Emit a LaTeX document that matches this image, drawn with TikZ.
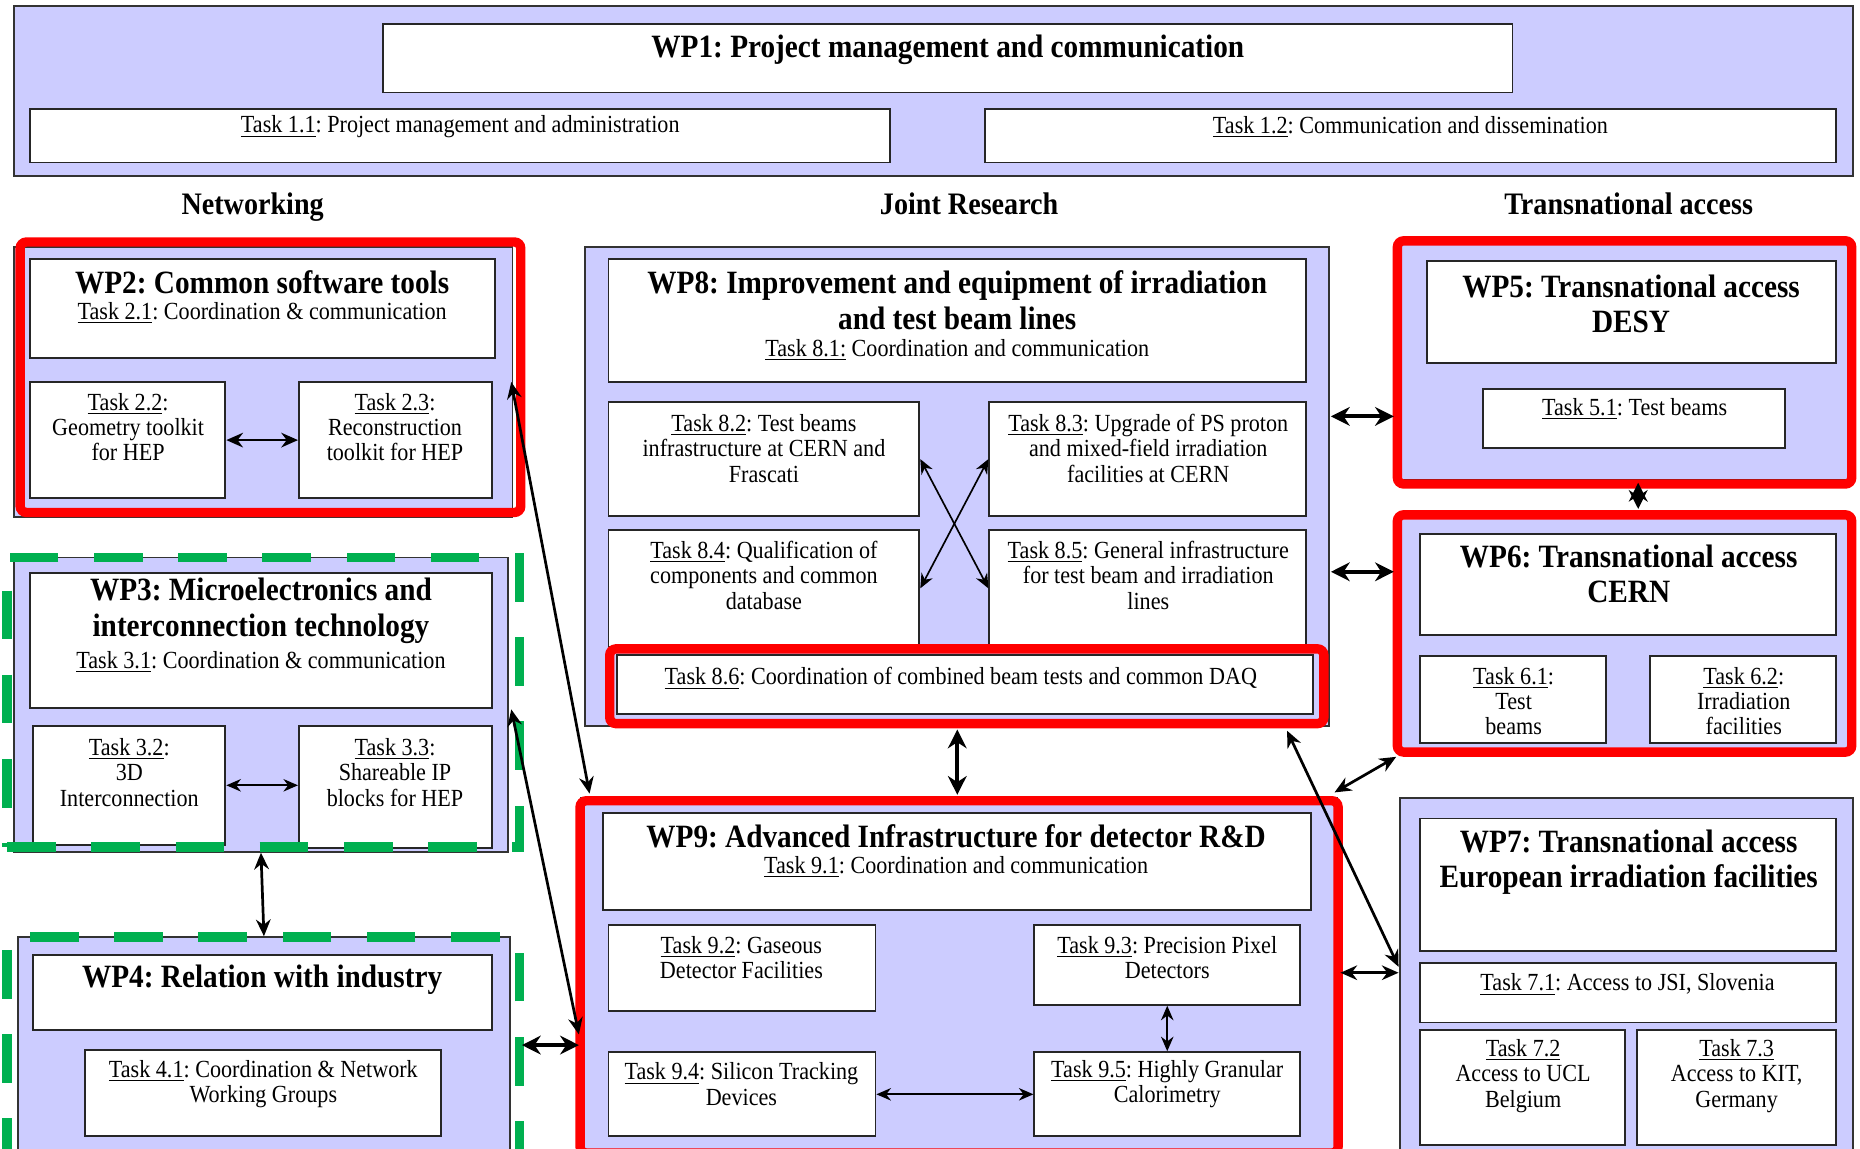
\documentclass[tikz,border=0pt]{standalone}
\usepackage{fontspec}
\setmainfont{Liberation Serif}[FakeStretch=0.9]
\usetikzlibrary{fit,arrows.meta}
\frenchspacing

\definecolor{wplav}{HTML}{CCCCFF}
\definecolor{wpred}{HTML}{FF0000}
\definecolor{wpgreen}{HTML}{00B050}

\tikzset{
  wpframe/.style={draw=black!80, fill=wplav, line width=0.9pt, inner sep=0pt},
  wpbox/.style={draw=black!85, fill=white, line width=0.9pt, inner sep=0pt},
  redframe/.style={draw=wpred, line width=4.5pt, rounded corners=3pt, inner sep=0pt},
  greenframe/.style={draw=wpgreen, line width=4.5pt, dash pattern=on 0.82cm off 0.6cm, inner sep=0pt},
  wptitle/.style={font=\fontsize{15.6}{17}\selectfont\bfseries, align=center, inner sep=0pt},
  wptext/.style={font=\fontsize{11.8}{12.2}\selectfont, align=center, inner sep=0pt},
  colhead/.style={font=\fontsize{15}{17}\selectfont\bfseries, anchor=base, inner sep=0pt},
  thinlink/.style={<->, >={Stealth[length=7pt,width=6pt]}, line width=0.8pt},
  wplink/.style={<->, >={Stealth[length=8pt,width=7pt]}, line width=1.3pt},
  fatlink/.style={<->, >={Stealth[length=9pt,width=9pt]}, line width=2pt},
}

\begin{document}
\begin{tikzpicture}[x=0.02cm, y=-0.02cm]
  \clip (0,0) rectangle (1568,968);

  % WP1 on top
  \node[wpframe, fit={(12,5) (1562,148)}] (wp1) {};
  \node[wpbox, fit={(323,20) (1275,78)}] (wp1t) {};
  \node[wptitle] (wp1l) at (799,42) {WP1: Project management and communication};
  \node[wpbox, fit={(25,92) (750,137)}] (t11) {};
  \node[wptext] (t11l) at (388,107) {\underline{Task 1.1}: Project management and administration};
  \node[wpbox, fit={(830,92) (1548,137)}] (t12) {};
  \node[wptext] (t12l) at (1189,107) {\underline{Task 1.2}: Communication and dissemination};

  % columns
  \node[colhead] (hnet) at (213,181) {Networking};
  \node[colhead] (hjr)  at (817,181) {Joint Research};
  \node[colhead] (hta)  at (1373,181) {Transnational access};

  % WP2
  \node[wpframe, fit={(12,208) (432,436)}] (wp2) {};
  \node[wpbox, fit={(25,218) (417,302)}] (wp2t) {};
  \node[wptitle] (wp2l) at (221,238) {WP2: Common software tools};
  \node[wptext] (t21l) at (221,264) {\underline{Task 2.1}: Coordination \& communication};
  \node[wpbox, fit={(25,322) (190,420)}] (t22) {};
  \node[wptext] (t22l) at (108,360) {\underline{Task 2.2}:\\Geometry toolkit\\for HEP};
  \node[wpbox, fit={(252,322) (415,420)}] (t23) {};
  \node[wptext] (t23l) at (333,360) {\underline{Task 2.3}:\\Reconstruction\\toolkit for HEP};

  % WP3
  \node[wpframe, fit={(12,470) (428,718)}] (wp3) {};
  \node[wpbox, fit={(25,483) (415,597)}] (wp3t) {};
  \node[wptitle] (wp3l) at (220,515) {WP3: Microelectronics and\\interconnection technology};
  \node[wptext] (t31l) at (220,558) {\underline{Task 3.1}: Coordination \& communication};
  \node[wpbox, fit={(28,612) (190,712)}] (t32) {};
  \node[wptext] (t32l) at (109,651) {\underline{Task 3.2}:\\3D\\Interconnection};
  \node[wpbox, fit={(252,612) (415,715)}] (t33) {};
  \node[wptext] (t33l) at (333,651) {\underline{Task 3.3}:\\Shareable IP\\blocks for HEP};

  % WP4
  \node[wpframe, fit={(15,790) (430,980)}] (wp4) {};
  \node[wpbox, fit={(28,805) (415,868)}] (wp4t) {};
  \node[wptitle] (wp4l) at (221,826) {WP4: Relation with industry};
  \node[wpbox, fit={(72,885) (372,958)}] (t41) {};
  \node[wptext] (t41l) at (222,914) {\underline{Task 4.1}: Coordination \& Network\\Working Groups};

  % WP8
  \node[wpframe, fit={(493,208) (1120,612)}] (wp8) {};
  \node[wpbox, fit={(513,218) (1101,322)}] (wp8t) {};
  \node[wptitle] (wp8l) at (807,253) {WP8: Improvement and equipment of irradiation\\and test beam lines};
  \node[wptext] (t81l) at (807,295) {\underline{Task 8.1:} Coordination and communication};
  \node[wpbox, fit={(513,339) (775,435)}] (t82) {};
  \node[wptext] (t82l) at (644,378) {\underline{Task 8.2}: Test beams\\infrastructure at CERN and\\Frascati};
  \node[wpbox, fit={(834,339) (1101,435)}] (t83) {};
  \node[wptext] (t83l) at (968,378) {\underline{Task 8.3}: Upgrade of PS proton\\and mixed-field irradiation\\facilities at CERN};
  \node[wpbox, fit={(513,447) (775,545)}] (t84) {};
  \node[wptext] (t84l) at (644,485) {\underline{Task 8.4}: Qualification of\\components and common\\database};
  \node[wpbox, fit={(834,447) (1101,545)}] (t85) {};
  \node[wptext] (t85l) at (968,485) {\underline{Task 8.5}: General infrastructure\\for test beam and irradiation\\lines};
  \node[wpbox, fit={(520,552) (1107,602)}] (t86) {};
  \node[wptext] (t86l) at (810,572) {\underline{Task 8.6}: Coordination of combined beam tests and common DAQ};

  % WP9
  \node[wpframe, fit={(490,673) (1127,980)}] (wp9) {};
  \node[wpbox, fit={(508,685) (1105,767)}] (wp9t) {};
  \node[wptitle] (wp9l) at (806,705) {WP9: Advanced Infrastructure for detector R\&D};
  \node[wptext] (t91l) at (806,731) {\underline{Task 9.1}: Coordination and communication};
  \node[wpbox, fit={(513,780) (738,852)}] (t92) {};
  \node[wptext] (t92l) at (625,807) {\underline{Task 9.2}: Gaseous\\Detector Facilities};
  \node[wpbox, fit={(872,780) (1096,847)}] (t93) {};
  \node[wptext] (t93l) at (984,807) {\underline{Task 9.3}: Precision Pixel\\Detectors};
  \node[wpbox, fit={(513,887) (738,958)}] (t94) {};
  \node[wptext] (t94l) at (625,914) {\underline{Task 9.4}: Silicon Tracking\\Devices};
  \node[wpbox, fit={(872,887) (1096,958)}] (t95) {};
  \node[wptext] (t95l) at (984,914) {\underline{Task 9.5}: Highly Granular\\Calorimetry};

  % WP5
  \node[wpframe, fit={(1178,205) (1560,405)}] (wp5) {};
  \node[wpbox, fit={(1203,220) (1548,306)}] (wp5t) {};
  \node[wptitle] (wp5l) at (1375,256) {WP5: Transnational access\\DESY};
  \node[wpbox, fit={(1250,328) (1505,378)}] (t51) {};
  \node[wptext] (t51l) at (1378,345) {\underline{Task 5.1}: Test beams};

  % WP6
  \node[wpframe, fit={(1178,437) (1560,633)}] (wp6) {};
  \node[wpbox, fit={(1197,450) (1548,535)}] (wp6t) {};
  \node[wptitle] (wp6l) at (1373,484) {WP6: Transnational access\\CERN};
  \node[wpbox, fit={(1197,553) (1354,626)}] (t61) {};
  \node[wptext] (t61l) at (1276,591) {\underline{Task 6.1}:\\Test\\beams};
  \node[wpbox, fit={(1391,553) (1548,626)}] (t62) {};
  \node[wptext] (t62l) at (1470,591) {\underline{Task 6.2}:\\Irradiation\\facilities};

  % WP7
  \node[wpframe, fit={(1180,673) (1562,980)}] (wp7) {};
  \node[wpbox, fit={(1197,690) (1548,802)}] (wp7t) {};
  \node[wptitle] (wp7l) at (1373,727) {WP7: Transnational access\\European irradiation facilities};
  \node[wpbox, fit={(1197,812) (1548,862)}] (t71) {};
  \node[wptext] (t71l) at (1372,830) {\underline{Task 7.1}: Access to JSI, Slovenia};
  \node[wpbox, fit={(1197,868) (1370,965)}] (t72) {};
  \node[wptext] (t72l) at (1284,907) {\underline{Task 7.2}\\Access to UCL\\Belgium};
  \node[wpbox, fit={(1380,868) (1548,965)}] (t73) {};
  \node[wptext] (t73l) at (1464,907) {\underline{Task 7.3}\\Access to KIT,\\Germany};

  % highlight frames
  \node[redframe, fit={(17,204) (439,432)}] (wp2r) {};
  \node[redframe, fit={(514,547) (1116,610)}] (t86r) {};
  \node[redframe, fit={(489,675) (1128,972)}] (wp9r) {};
  \node[redframe, fit={(1178,203) (1561,408)}] (wp5r) {};
  \node[redframe, fit={(1178,434) (1561,634)}] (wp6r) {};
  \node[greenframe, fit={(6,470) (438,714)}] (wp3g) {};
  \node[greenframe, fit={(6,790) (438,980)}] (wp4g) {};

  % free ends of the links
  \coordinate (e2)  at (431,322);
  \coordinate (e9a) at (497,669);
  \coordinate (e3)  at (431,598);
  \coordinate (e9b) at (488,872);
  \coordinate (e4)  at (440,881);
  \coordinate (e9c) at (488,881);
  \coordinate (e8s) at (807,615);
  \coordinate (e9n) at (807,670);
  \coordinate (e8a) at (1122,351);
  \coordinate (e5)  at (1175,351);
  \coordinate (e8b) at (1122,482);
  \coordinate (e6)  at (1175,482);
  \coordinate (e5s) at (1381,407);
  \coordinate (e6n) at (1381,429);
  \coordinate (e9d) at (1125,668);
  \coordinate (e6s) at (1177,638);
  \coordinate (e8c) at (1085,616);
  \coordinate (e7a) at (1179,815);
  \coordinate (e9e) at (1130,820);
  \coordinate (e7b) at (1179,820);

  % links
  \draw[wplink] (t22.east) -- (t23.west);
  \draw[thinlink] (t32.east) -- (t32.east -| t33.west);
  \draw[wplink] (wp3.south) -- (wp4.north);
  \draw[wplink] (e2) -- (e9a);
  \draw[wplink] (e3) -- (e9b);
  \draw[fatlink] (e4) -- (e9c);
  \draw[thinlink] (t82.east) -- (t85.west);
  \draw[thinlink] (t84.east) -- (t83.west);
  \draw[fatlink] (e8s) -- (e9n);
  \draw[thinlink] (t93.south) -- (t95.north);
  \draw[thinlink] (t94.east) -- (t95.west);
  \draw[fatlink] (e8a) -- (e5);
  \draw[fatlink] (e8b) -- (e6);
  \draw[fatlink] (e5s) -- (e6n);
  \draw[wplink] (e9d) -- (e6s);
  \draw[wplink] (e8c) -- (e7a);
  \draw[wplink] (e9e) -- (e7b);
\end{tikzpicture}
\end{document}
